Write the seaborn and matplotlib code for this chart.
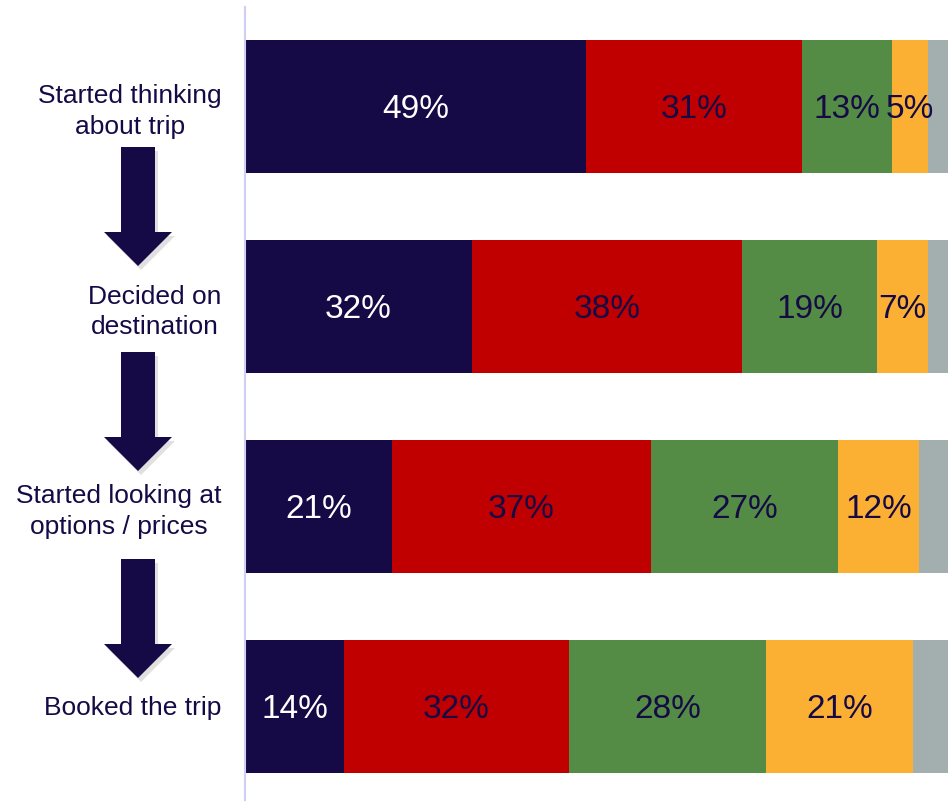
import matplotlib.pyplot as plt
import matplotlib.patches as mpatches
import numpy as np
import seaborn as sns

# stages of the trip planning journey (top to bottom)
stages = ["Started thinking\nabout trip", "Decided on\ndestination",
          "Started looking at\noptions / prices", "Booked the trip"]

# segment shares (%)
seg_navy = [48.5, 32.3, 20.9, 14.1]
seg_red = [30.7, 38.4, 36.8, 32.0]
seg_green = [12.9, 19.2, 26.7, 28.0]
seg_orange = [5.0, 7.3, 11.5, 20.9]
seg_grey = [2.9, 2.8, 4.1, 5.0]

lab_navy = ["49%", "32%", "21%", "14%"]
lab_red = ["31%", "38%", "37%", "32%"]
lab_green = ["13%", "19%", "27%", "28%"]
lab_orange = ["5%", "7%", "12%", "21%"]

navy = "#150A45"
colors = [navy, "#C00000", "#548B45", "#FBB034", "#A3AFAF"]

sns.set_style("white")
plt.rcParams["font.family"] = ["Liberation Sans", "DejaVu Sans"]

segs = np.array([seg_navy, seg_red, seg_green, seg_orange, seg_grey]).T
cum = np.cumsum(segs, axis=1)

fig = plt.figure(figsize=(9.53, 8.02), dpi=100)
ax = fig.add_axes([245 / 953, 2 / 802, 703 / 953, 793 / 802])

# stacked bars: draw cumulative totals from the widest down
for i in reversed(range(segs.shape[1])):
    sns.barplot(x=cum[:, i], y=stages, orient="h", color=colors[i],
                saturation=1, width=0.665, linewidth=0, ax=ax)

labels = [lab_navy, lab_red, lab_green, lab_orange]
for i, labs in enumerate(labels):
    mids = cum[:, i] - segs[:, i] / 2
    for j, (m, t) in enumerate(zip(mids, labs)):
        ax.text(m, j, t, ha="center", va="center_baseline", fontsize=24,
                color="white" if i == 0 else navy)

ax.set_xlim(0, 100)
ax.set_ylim(3.47, -0.495)
ax.set_xlabel("")
ax.set_ylabel("")
ax.set_xticks([])
ax.tick_params(axis="y", length=0, pad=17, labelsize=19, labelcolor=navy)
for lbl in ax.get_yticklabels():
    lbl.set_multialignment("center")
    lbl.set_linespacing(1.35)
for s in ["top", "right", "bottom"]:
    ax.spines[s].set_visible(False)
ax.spines["left"].set_color("#CFCFF5")
ax.spines["left"].set_linewidth(1.5)

# down arrows between stages
ov = fig.add_axes([0, 0, 1, 1], facecolor="none")
ov.set_xlim(0, 953)
ov.set_ylim(802, 0)
ov.axis("off")
for top in [147, 352, 559]:
    tip = top + 119
    pts = [(121, top), (155, top), (155, tip - 34), (172, tip - 34),
           (138, tip), (104, tip - 34), (121, tip - 34)]
    shadow = mpatches.Polygon([(x + 3, y + 4) for x, y in pts],
                              closed=True, color="#000000", alpha=0.12, lw=0)
    ov.add_patch(shadow)
    ov.add_patch(mpatches.Polygon(pts, closed=True, color=navy, lw=0))

fig.savefig("out.png", dpi=100)
